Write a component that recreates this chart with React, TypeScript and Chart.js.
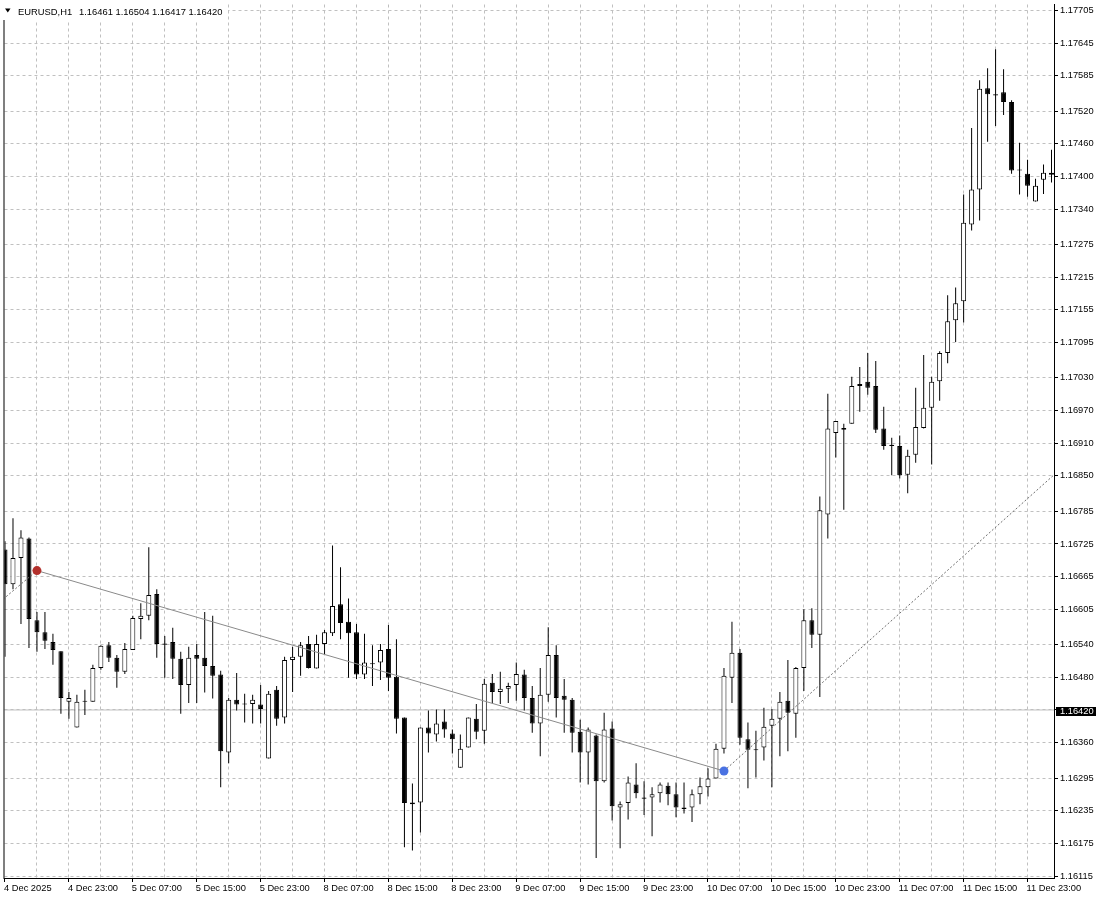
import { useEffect, useRef } from "react";
import { Chart, registerables } from "chart.js";

Chart.register(...registerables);

const symbolLabel = "EURUSD,H1";
const headerValues = ["1.16461", "1.16504", "1.16417", "1.16420"];
const currentPrice = 1.1642;

const openPrices = [
  1.16715, 1.16651, 1.16699, 1.16735, 1.16585, 1.16563, 1.16545, 1.16528, 1.16435, 1.16388,
  1.16437, 1.16435, 1.16497, 1.16539, 1.16516, 1.1649, 1.1653, 1.16587, 1.16593, 1.16633,
  1.16542, 1.16545, 1.16514, 1.16466, 1.16521, 1.16516, 1.16501, 1.16485, 1.16342, 1.16439,
  1.16432, 1.16431, 1.1643, 1.16331, 1.16457, 1.16406, 1.16512, 1.16518, 1.16541, 1.16496,
  1.16541, 1.16561, 1.16614, 1.16582, 1.16563, 1.16485, 1.16506, 1.16507, 1.16532, 1.16481,
  1.16406, 1.16247, 1.1625, 1.16388, 1.16375, 1.16399, 1.16377, 1.16314, 1.16351, 1.16404,
  1.16382, 1.1647, 1.16453, 1.16459, 1.16466, 1.16485, 1.16442, 1.16395, 1.16448, 1.16521,
  1.16446, 1.16439, 1.1638, 1.16342, 1.16373, 1.16289, 1.16386, 1.16241, 1.16249, 1.16283,
  1.16259, 1.16259, 1.16267, 1.16281, 1.16265, 1.16238, 1.16241, 1.16265, 1.16278, 1.16294,
  1.16349, 1.16479, 1.16525, 1.16366, 1.16348, 1.16351, 1.16391, 1.16404, 1.16437, 1.16413,
  1.16497, 1.16585, 1.16558, 1.16779, 1.16929, 1.16935, 1.16946, 1.17015, 1.17023, 1.17015,
  1.16937, 1.16907, 1.16905, 1.16852, 1.16889, 1.16938, 1.16975, 1.17024, 1.17076, 1.17136,
  1.17171, 1.17312, 1.17376, 1.17562, 1.17551, 1.17555, 1.17537, 1.17413, 1.17405, 1.17354,
  1.17394, 1.17407,
];
const highPrices = [
  1.1673, 1.16772, 1.1675, 1.16737, 1.166, 1.166, 1.1656, 1.16528, 1.16453, 1.16448,
  1.16457, 1.16503, 1.16539, 1.16545, 1.16521, 1.16543, 1.16593, 1.16616, 1.16719, 1.16642,
  1.16556, 1.16571, 1.16527, 1.16536, 1.16541, 1.166, 1.16593, 1.16492, 1.16442, 1.16488,
  1.1645, 1.16448, 1.16466, 1.16455, 1.16464, 1.16518, 1.16536, 1.16545, 1.16556, 1.16558,
  1.16567, 1.16722, 1.16682, 1.16625, 1.16578, 1.1656, 1.16539, 1.16541, 1.16576, 1.1655,
  1.16406, 1.16285, 1.16388, 1.16419, 1.16421, 1.16421, 1.16384, 1.16375, 1.16406, 1.16431,
  1.16477, 1.16486, 1.1649, 1.1647, 1.16507, 1.16494, 1.16464, 1.16497, 1.16572, 1.16539,
  1.16477, 1.16442, 1.16402, 1.16388, 1.16375, 1.16415, 1.16399, 1.16252, 1.16298, 1.16322,
  1.16289, 1.16278, 1.16287, 1.16287, 1.16287, 1.16287, 1.16274, 1.16296, 1.16313, 1.16358,
  1.16497, 1.16582, 1.16532, 1.16397, 1.16382, 1.16424, 1.16422, 1.16453, 1.16512, 1.16499,
  1.16605, 1.16607, 1.16812, 1.17001, 1.16951, 1.16946, 1.17032, 1.1705, 1.17076, 1.17061,
  1.16977, 1.1692, 1.16924, 1.16898, 1.17012, 1.17072, 1.17032, 1.17079, 1.17182, 1.17196,
  1.17367, 1.17489, 1.17577, 1.17599, 1.17634, 1.17597, 1.1754, 1.17462, 1.17431, 1.17396,
  1.17422, 1.17449,
];
const lowPrices = [
  1.16518, 1.16642, 1.16578, 1.16534, 1.16527, 1.16532, 1.16503, 1.16413, 1.16404, 1.16388,
  1.16411, 1.16435, 1.16494, 1.16508, 1.16461, 1.16486, 1.1653, 1.1655, 1.16585, 1.16516,
  1.16479, 1.16477, 1.16413, 1.16433, 1.16433, 1.16452, 1.16441, 1.16278, 1.16322, 1.16419,
  1.16397, 1.16395, 1.16395, 1.16331, 1.16391, 1.16395, 1.16453, 1.16483, 1.16496, 1.16496,
  1.16523, 1.16556, 1.1655, 1.16479, 1.16477, 1.16477, 1.16464, 1.16475, 1.16455, 1.16377,
  1.16168, 1.16162, 1.16195, 1.16342, 1.16362, 1.16369, 1.1634, 1.16314, 1.16351, 1.16366,
  1.16358, 1.16433, 1.16431, 1.16433, 1.16437, 1.16419, 1.16378, 1.16335, 1.16435, 1.16406,
  1.16378, 1.16342, 1.16287, 1.16283, 1.16148, 1.16287, 1.16217, 1.16166, 1.16219, 1.16258,
  1.16227, 1.16188, 1.1625, 1.16245, 1.16223, 1.1623, 1.16214, 1.16247, 1.16261, 1.16294,
  1.1634, 1.16433, 1.16356, 1.16276, 1.16296, 1.16327, 1.16278, 1.16335, 1.16344, 1.16369,
  1.16455, 1.16534, 1.16444, 1.16735, 1.16884, 1.16788, 1.16946, 1.16968, 1.16999, 1.16929,
  1.16898, 1.16851, 1.16845, 1.16818, 1.16874, 1.16937, 1.16871, 1.16988, 1.17057, 1.17096,
  1.17132, 1.17301, 1.17319, 1.17464, 1.17493, 1.17513, 1.17405, 1.17367, 1.17363, 1.17354,
  1.17368, 1.17389,
];
const closePrices = [
  1.16651, 1.16699, 1.16737, 1.16587, 1.16563, 1.16547, 1.1653, 1.16442, 1.16442, 1.16435,
  1.16435, 1.16497, 1.16538, 1.16516, 1.1649, 1.16532, 1.16589, 1.16593, 1.16631, 1.16541,
  1.1654, 1.16514, 1.16466, 1.16516, 1.16514, 1.16501, 1.16483, 1.16344, 1.16439, 1.1643,
  1.1643, 1.16439, 1.16422, 1.1645, 1.16404, 1.16512, 1.16518, 1.16539, 1.16497, 1.16541,
  1.16563, 1.16611, 1.1658, 1.16561, 1.16485, 1.16507, 1.16504, 1.1653, 1.16479, 1.16404,
  1.16249, 1.1625, 1.16388, 1.16377, 1.16395, 1.16384, 1.16366, 1.16349, 1.16406, 1.1638,
  1.16468, 1.16453, 1.16459, 1.16464, 1.16486, 1.16442, 1.16395, 1.16448, 1.16521, 1.16442,
  1.16439, 1.16378, 1.16342, 1.16384, 1.16289, 1.16384, 1.16243, 1.16247, 1.16287, 1.16267,
  1.16257, 1.16265, 1.16283, 1.16265, 1.16241, 1.16241, 1.16265, 1.1628, 1.16294, 1.16349,
  1.16483, 1.16525, 1.16369, 1.16347, 1.16346, 1.16389, 1.16404, 1.16435, 1.16415, 1.16497,
  1.16585, 1.16558, 1.16787, 1.16937, 1.16951, 1.16938, 1.17015, 1.17019, 1.17012, 1.16935,
  1.16905, 1.16905, 1.16851, 1.16887, 1.1694, 1.16975, 1.17023, 1.17076, 1.17134, 1.17167,
  1.17315, 1.17376, 1.17561, 1.17551, 1.17549, 1.17537, 1.17411, 1.17411, 1.17383, 1.17383,
  1.17407, 1.17403,
];

const timeLabels = [
  "4 Dec 2025", "4 Dec 23:00", "5 Dec 07:00", "5 Dec 15:00", "5 Dec 23:00",
  "8 Dec 07:00", "8 Dec 15:00", "8 Dec 23:00", "9 Dec 07:00", "9 Dec 15:00",
  "9 Dec 23:00", "10 Dec 07:00", "10 Dec 15:00", "10 Dec 23:00", "11 Dec 07:00",
  "11 Dec 15:00", "11 Dec 23:00",
];

const priceTickLabels = [
  "1.17705", "1.17645", "1.17585", "1.17520", "1.17460", "1.17400", "1.17340",
  "1.17275", "1.17215", "1.17155", "1.17095", "1.17030", "1.16970", "1.16910",
  "1.16850", "1.16785", "1.16725", "1.16665", "1.16605", "1.16540", "1.16480",
  "1.16420", "1.16360", "1.16295", "1.16235", "1.16175", "1.16115",
];

// swing markers and trend lines: [bar index, price]
const peakPoint = [4, 1.16676];
const troughPoint = [90, 1.16308];
const leftRayStart = [-1, 1.16614];
const rightRayEnd = [132, 1.16861];

const FONT = "Liberation Sans";

export default function App() {
  const canvasRef = useRef<HTMLCanvasElement | null>(null);

  useEffect(() => {
    const canvas = canvasRef.current;
    if (!canvas) return;

    const idx = openPrices.map((_, i) => i);
    const bodyData = idx.map((i) => ({ x: i, y: [openPrices[i], closePrices[i]] }));
    const wickData = idx.map((i) => ({ x: i, y: [lowPrices[i], highPrices[i]] }));
    const bodyColors = idx.map((i) => (closePrices[i] > openPrices[i] ? "#ffffff" : "#000000"));
    const pt = (p: number[]) => ({ x: p[0], y: p[1] });

    const gridTicks: number[] = [];
    timeLabels.forEach((_, i) => {
      gridTicks.push(i * 8);
      if (i * 8 + 4 <= 131) gridTicks.push(i * 8 + 4);
    });

    const chromePlugin = {
      id: "mtChrome",
      afterDraw(chart: any) {
        const { ctx, chartArea, scales } = chart;
        ctx.save();
        ctx.fillStyle = "#000";
        ctx.fillRect(chartArea.left - 1, chartArea.top, 1, chartArea.bottom - chartArea.top + 1);

        const py = scales.y.getPixelForValue(currentPrice);
        const top = Math.round(py) - 3;
        ctx.fillStyle = "#000";
        ctx.fillRect(chartArea.right + 2, top, 40, 9);
        ctx.fillStyle = "#fff";
        ctx.font = `9.3px "${FONT}"`;
        ctx.textBaseline = "middle";
        ctx.textAlign = "left";
        ctx.fillText(currentPrice.toFixed(5), chartArea.right + 6, top + 4.5);

        ctx.fillStyle = "#fff";
        ctx.fillRect(0, 0, 228, 20);
        ctx.fillStyle = "#000";
        ctx.beginPath();
        ctx.moveTo(5, 8.5);
        ctx.lineTo(10.5, 8.5);
        ctx.lineTo(7.75, 12.5);
        ctx.closePath();
        ctx.fill();
        ctx.font = `9.4px "${FONT}"`;
        ctx.textBaseline = "alphabetic";
        ctx.fillText(symbolLabel, 18, 15);
        ctx.fillText(headerValues.join(" "), 79, 15);
        ctx.restore();
      },
    };

    const chart = new Chart(canvas, {
      type: "bar",
      data: {
        datasets: [
          {
            type: "line",
            data: [pt(troughPoint)],
            showLine: false,
            pointRadius: 4.5,
            pointBackgroundColor: "#4a72e2",
            pointBorderWidth: 0,
            order: -5,
            clip: 0,
          } as any,
          {
            type: "line",
            data: [pt(peakPoint)],
            showLine: false,
            pointRadius: 4.5,
            pointBackgroundColor: "#b3302c",
            pointBorderWidth: 0,
            order: -4,
            clip: 0,
          },
          {
            type: "line",
            data: [pt(peakPoint), pt(troughPoint)],
            borderColor: "#8a8a8a",
            borderWidth: 1,
            pointRadius: 0,
            order: -3,
            clip: 0,
          },
          {
            type: "line",
            data: [pt(leftRayStart), pt(peakPoint)],
            borderColor: "#6e6e6e",
            borderWidth: 1,
            borderDash: [2, 2],
            pointRadius: 0,
            order: -2,
            clip: 0,
          },
          {
            type: "line",
            data: [pt(troughPoint), pt(rightRayEnd)],
            borderColor: "#6e6e6e",
            borderWidth: 1,
            borderDash: [2, 2],
            pointRadius: 0,
            order: -1,
            clip: 0,
          },
          {
            type: "bar",
            data: bodyData,
            backgroundColor: bodyColors,
            borderColor: "#000000",
            borderWidth: 1,
            borderSkipped: false,
            grouped: false,
            categoryPercentage: 1,
            barPercentage: 0.625,
            maxBarThickness: 5,
            inflateAmount: 0,
            order: 0,
            clip: 0,
          } as any,
          {
            type: "bar",
            data: wickData,
            backgroundColor: "#000000",
            borderWidth: 0,
            grouped: false,
            categoryPercentage: 1,
            barPercentage: 0.125,
            maxBarThickness: 1,
            inflateAmount: 0,
            order: 1,
            clip: 0,
          } as any,
          {
            type: "line",
            data: [
              { x: -1, y: currentPrice },
              { x: 133, y: currentPrice },
            ],
            borderColor: "#c0c0c0",
            borderWidth: 1,
            pointRadius: 0,
            order: 3,
            clip: 0,
          },
        ] as any,
      },
      options: {
        responsive: false,
        devicePixelRatio: 1,
        animation: false,
        events: [],
        layout: { padding: { left: 3, top: 1, right: 0, bottom: 0 } },
        plugins: {
          legend: { display: false },
          tooltip: { enabled: false },
          title: { display: false },
        },
        scales: {
          x: {
            type: "linear",
            min: -0.0625,
            max: 131.3125,
            offset: false,
            afterBuildTicks: (s: any) => {
              s.ticks = gridTicks.map((v) => ({ value: v }));
            },
            afterFit: (s: any) => {
              s.height = 22;
              s.paddingLeft = 0;
              s.paddingRight = 0;
            },
            grid: {
              offset: false,
              color: (c: any) => (c.tick && c.tick.value === 0 ? "rgba(0,0,0,0)" : "#c0c0c0"),
              lineWidth: 1,
              drawTicks: true,
              tickLength: 4,
              tickWidth: 1,
              tickColor: (c: any) => (c.tick && c.tick.value % 8 === 0 ? "#000" : "rgba(0,0,0,0)"),
            },
            border: { display: true, color: "#000", width: 1, dash: [3, 3] },
            ticks: {
              autoSkip: false,
              maxRotation: 0,
              minRotation: 0,
              align: "start",
              labelOffset: -1,
              padding: 1,
              color: "#000",
              font: { family: FONT, size: 9.3 },
              callback: (v: any) => (Number(v) % 8 === 0 ? timeLabels[Number(v) / 8] : ""),
            },
          } as any,
          y: {
            type: "linear",
            position: "right",
            min: 1.16111338,
            max: 1.17715978,
            beginAtZero: false,
            afterBuildTicks: (s: any) => {
              s.ticks = priceTickLabels
                .map((t) => ({ value: parseFloat(t) }))
                .sort((a, b) => a.value - b.value);
            },
            afterFit: (s: any) => {
              s.width = 46;
              s.paddingTop = 0;
              s.paddingBottom = 0;
            },
            grid: {
              offset: false,
              color: "#c0c0c0",
              lineWidth: 1,
              drawTicks: true,
              tickLength: 4,
              tickWidth: 1,
              tickColor: "#000",
            },
            border: { display: true, color: "#000", width: 1, dash: [3, 3] },
            ticks: {
              autoSkip: false,
              padding: 2,
              color: "#000",
              font: { family: FONT, size: 9.3 },
              callback: (v: any) => Number(v).toFixed(5),
            },
          } as any,
        },
      },
      plugins: [chromePlugin],
    });

    return () => {
      chart.destroy();
    };
  }, []);

  return (
    <div
      style={{
        position: "fixed",
        left: 0,
        top: 0,
        width: 1100,
        height: 900,
        background: "#ffffff",
      }}
    >
      <canvas ref={canvasRef} width={1100} height={900} style={{ display: "block" }} />
    </div>
  );
}
